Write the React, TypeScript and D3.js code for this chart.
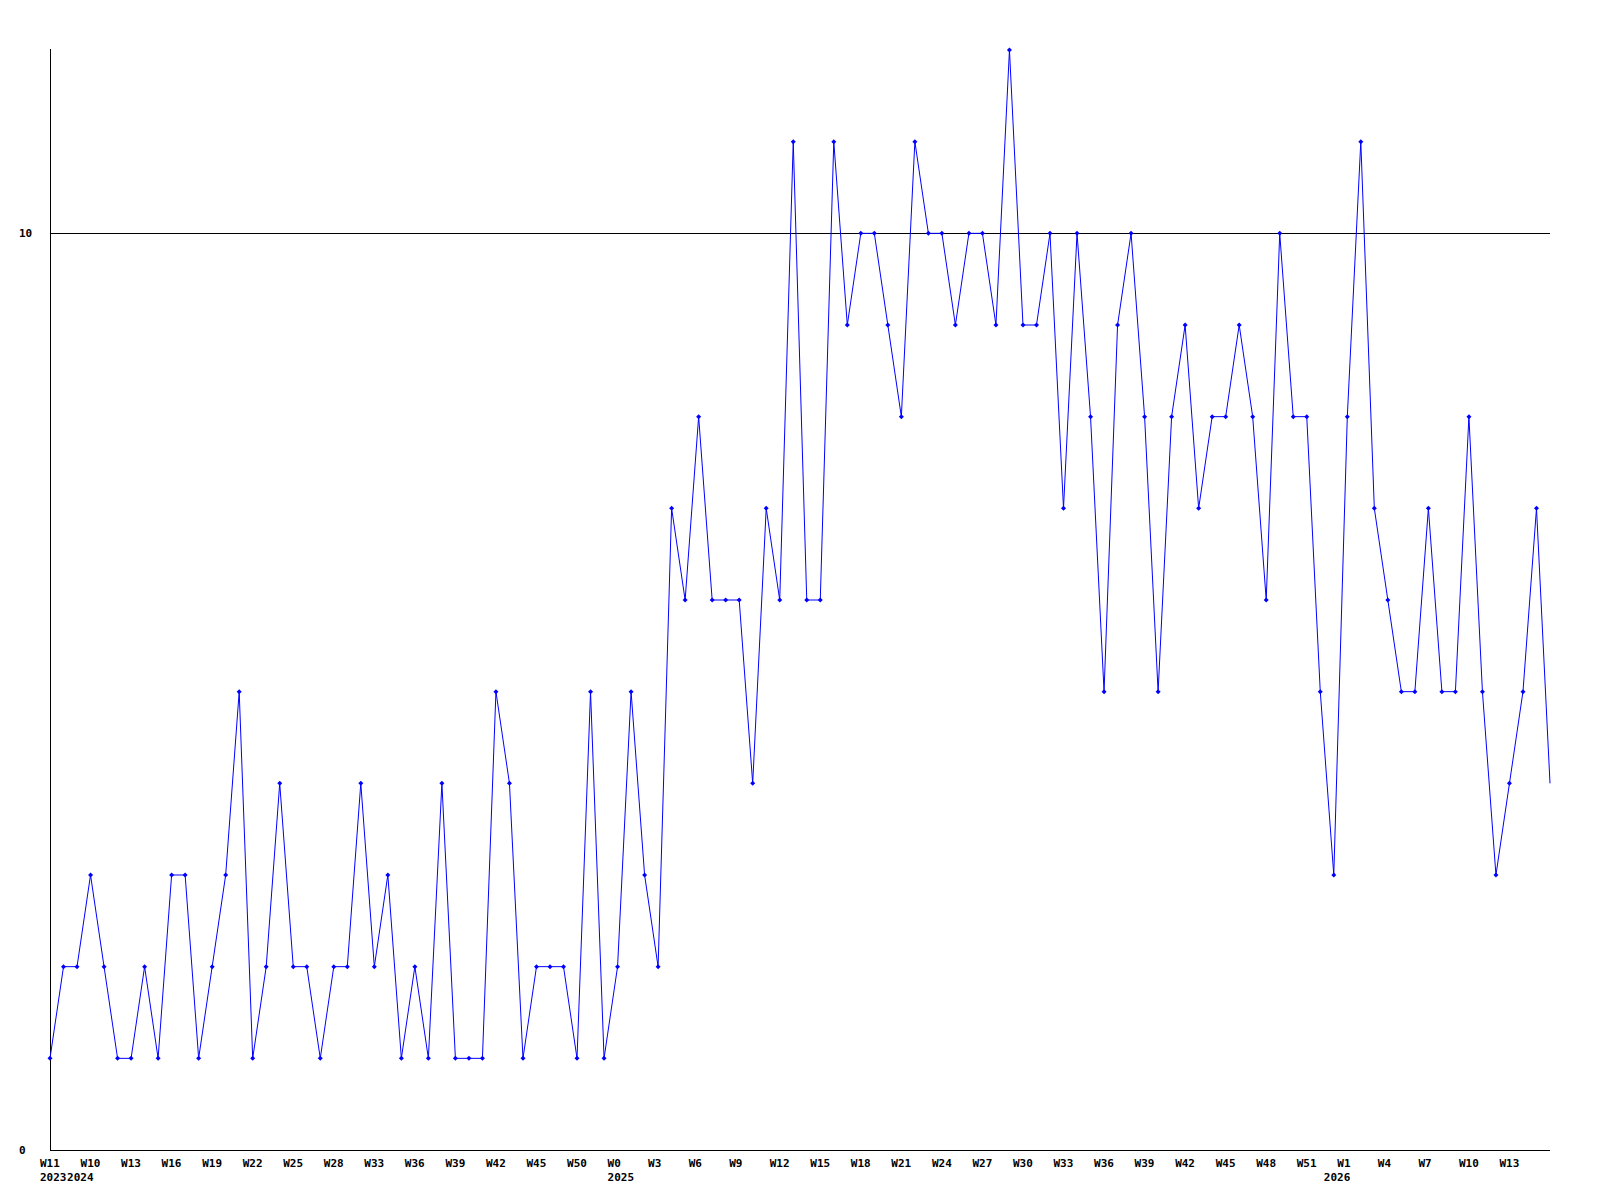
import React from "react";
import * as d3 from "d3";

const values: number[] = [
  1, 2, 2, 3, 2, 1, 1, 2, 1, 3,
  3, 1, 2, 3, 5, 1, 2, 4, 2, 2,
  1, 2, 2, 4, 2, 3, 1, 2, 1, 4,
  1, 1, 1, 5, 4, 1, 2, 2, 2, 1,
  5, 1, 2, 5, 3, 2, 7, 6, 8, 6,
  6, 6, 4, 7, 6, 11, 6, 6, 11, 9,
  10, 10, 9, 8, 11, 10, 10, 9, 10, 10,
  9, 12, 9, 9, 10, 7, 10, 8, 5, 9,
  10, 8, 5, 8, 9, 7, 8, 8, 9, 8,
  6, 10, 8, 8, 5, 3, 8, 11, 7, 6,
  5, 5, 7, 5, 5, 8, 5, 3, 4, 5,
  7, 4,
];

// one label every 3 points, starting at index 0
const weekLabels: string[] = [
  "W11", "W10", "W13", "W16", "W19", "W22", "W25", "W28", "W33", "W36",
  "W39", "W42", "W45", "W50", "W0", "W3", "W6", "W9", "W12", "W15",
  "W18", "W21", "W24", "W27", "W30", "W33", "W36", "W39", "W42", "W45",
  "W48", "W51", "W1", "W4", "W7", "W10", "W13",
];

const yearLabels: string[] = ["2023", "2024", "2025", "2026"];
const yearIndices: number[] = [0, 2, 42, 95];

const yTicks: number[] = [0, 10];
const gridValues: number[] = [10];

const W = 1600;
const H = 1200;
const left = 50;
const right = 1550;
const top = 50;
const bottom = 1150;

export default function App() {
  const x = d3.scaleLinear().domain([0, values.length - 1]).range([left, right]);
  const y = d3.scaleLinear().domain([0, 12]).range([bottom, top]);

  const line = d3
    .line<number>()
    .x((_, i) => x(i))
    .y((d) => y(d));

  const font = "'DejaVu Sans Mono', monospace";
  const marker = (cx: number, cy: number) =>
    `M${cx - 2.5},${cy}L${cx},${cy - 2.5}L${cx + 2.5},${cy}L${cx},${cy + 2.5}Z`;

  return (
    <svg
      width={W}
      height={H}
      style={{ position: "absolute", left: 0, top: 0, background: "#fff" }}
    >
      <rect x={0} y={0} width={W} height={H} fill="#fff" />
      {gridValues.map((g) => (
        <line
          key={"g" + g}
          x1={left}
          x2={right}
          y1={Math.round(y(g)) + 0.5}
          y2={Math.round(y(g)) + 0.5}
          stroke="#000"
          strokeWidth={1}
          shapeRendering="crispEdges"
        />
      ))}
      <line
        x1={left + 0.5}
        x2={left + 0.5}
        y1={y(12) - 1}
        y2={bottom + 0.5}
        stroke="#000"
        shapeRendering="crispEdges"
      />
      <line
        x1={left}
        x2={right}
        y1={bottom + 0.5}
        y2={bottom + 0.5}
        stroke="#000"
        shapeRendering="crispEdges"
      />
      <path d={line(values) || ""} fill="none" stroke="#0000ff" strokeWidth={1} />
      {values.slice(0, values.length - 1).map((v, i) => (
        <path key={"m" + i} d={marker(x(i), y(v))} fill="#0000ff" />
      ))}
      {yTicks.map((t) => (
        <text
          key={"yt" + t}
          x={19}
          y={y(t) + 4}
          fontFamily={font}
          fontWeight="bold"
          fontSize={11}
          fill="#000"
        >
          {t}
        </text>
      ))}
      {weekLabels.map((lab, k) => (
        <text
          key={"w" + k}
          x={x(k * 3) - 10}
          y={1167}
          fontFamily={font}
          fontWeight="bold"
          fontSize={11}
          fill="#000"
        >
          {lab}
        </text>
      ))}
      {yearLabels.map((lab, k) => (
        <text
          key={"yr" + k}
          x={x(yearIndices[k]) - 10}
          y={1181}
          fontFamily={font}
          fontWeight="bold"
          fontSize={11}
          fill="#000"
        >
          {lab}
        </text>
      ))}
    </svg>
  );
}
